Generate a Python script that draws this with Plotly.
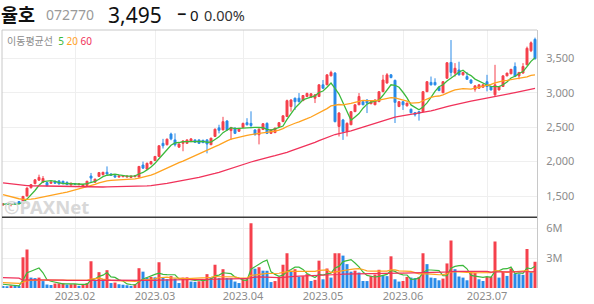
import plotly.graph_objects as go
import pandas as pd

# ---------------- data ----------------
# closes before the visible window (only used so the moving averages start correctly)
prior_closes = [1850, 1840, 1830, 1815, 1825, 1810, 1820, 1805, 1815, 1800, 1820, 1810,
                1790, 1780, 1770, 1785, 1775, 1760, 1770, 1755, 1765, 1750, 1760, 1745,
                1755, 1760, 1750, 1765, 1750, 1740, 1755, 1745, 1750, 1745,
                1750, 1745, 1740, 1735, 1740, 1725,
                1710, 1700, 1685, 1670, 1650, 1630, 1600, 1580, 1560,
                1520, 1490, 1460, 1440, 1420, 1400, 1390, 1385, 1380, 1375]

opens = [1370, 1390, 1375, 1405, 1420, 1390, 1500, 1620, 1680, 1730,
         1700, 1695, 1685, 1715, 1720, 1715, 1695, 1660, 1680, 1665,
         1645, 1650, 1790, 1700, 1785, 1810, 1845, 1820, 1795, 1775,
         1780, 1775, 1770, 1780, 1775, 1950, 1890, 1965, 2015, 2075,
         2265, 2245, 2400, 2315, 2210, 2265, 2265, 2290, 2315, 2315,
         2310, 2315, 2245, 2365, 2490, 2460, 2590, 2450, 2485, 2440,
         2495, 2565, 2555, 2460, 2390, 2465, 2555, 2410, 2420, 2510,
         2580, 2655, 2800, 2920, 2920, 2885, 2945, 2935, 2920, 2945,
         3115, 3115, 3245, 3285, 2510, 2605, 2435, 2535, 2725, 2825,
         2870, 2895, 2840, 2825, 2870, 3015, 3140, 3260, 3180, 2800,
         2870, 2810, 2760, 2710, 2725, 2725, 3015, 3150, 3150, 3080,
         3000, 3210, 3440, 3285, 3330, 3260, 3235, 3185, 3050, 3065,
         3080, 3160, 3090, 2970, 3040, 3090, 3245, 3275, 3380, 3245,
         3285, 3405, 3610, 3775]

highs = [1395, 1400, 1400, 1410, 1425, 1500, 1625, 1675, 1745, 1810,
         1790, 1700, 1712, 1725, 1725, 1720, 1715, 1695, 1690, 1685,
         1670, 1720, 1835, 1750, 1845, 1850, 1930, 1830, 1800, 1800,
         1800, 1795, 1795, 1800, 1935, 2000, 1985, 2010, 2080, 2235,
         2330, 2335, 2420, 2410, 2265, 2310, 2320, 2335, 2320, 2320,
         2315, 2325, 2345, 2480, 2535, 2650, 2600, 2505, 2500, 2490,
         2565, 2630, 2730, 2470, 2480, 2560, 2570, 2470, 2495, 2575,
         2670, 2900, 2905, 2930, 2995, 2965, 3000, 2990, 2975, 3120,
         3185, 3265, 3320, 3300, 2720, 2620, 2570, 2735, 2830, 2995,
         2885, 2900, 2880, 2900, 3020, 3260, 3285, 3270, 3190, 2880,
         2880, 2855, 2770, 2720, 2730, 3025, 3170, 3235, 3210, 3090,
         3170, 3445, 3765, 3430, 3450, 3300, 3300, 3195, 3105, 3120,
         3120, 3260, 3100, 3405, 3095, 3250, 3290, 3345, 3440, 3300,
         3430, 3670, 3745, 3800]

lows = [1360, 1370, 1350, 1375, 1380, 1385, 1495, 1610, 1670, 1720,
        1690, 1640, 1680, 1680, 1670, 1670, 1660, 1655, 1660, 1655,
        1640, 1645, 1700, 1690, 1780, 1800, 1815, 1795, 1770, 1770,
        1775, 1770, 1765, 1775, 1770, 1895, 1885, 1960, 2010, 2065,
        2190, 2235, 2310, 2220, 2200, 2150, 2260, 2285, 2275, 2260,
        2270, 2120, 2240, 2360, 2410, 2455, 2450, 2315, 2400, 2430,
        2490, 2525, 2485, 2380, 2250, 2460, 2400, 2400, 2415, 2500,
        2575, 2650, 2725, 2750, 2860, 2880, 2940, 2930, 2850, 2940,
        3060, 3110, 3240, 2570, 2365, 2315, 2365, 2530, 2720, 2820,
        2820, 2705, 2835, 2820, 2865, 3010, 3135, 3210, 2560, 2790,
        2750, 2800, 2700, 2655, 2595, 2720, 3010, 3105, 3105, 3025,
        2995, 3205, 3235, 3235, 3250, 3250, 3190, 3130, 3015, 3060,
        3075, 3020, 3035, 2950, 3035, 3085, 3240, 3270, 3230, 3195,
        3280, 3400, 3590, 3480]

closes = [1385, 1380, 1390, 1385, 1390, 1495, 1615, 1665, 1735, 1770,
          1755, 1650, 1705, 1685, 1675, 1680, 1665, 1685, 1670, 1675,
          1660, 1715, 1760, 1745, 1840, 1845, 1820, 1800, 1775, 1790,
          1795, 1790, 1790, 1795, 1930, 1905, 1975, 2000, 2075, 2230,
          2230, 2325, 2330, 2245, 2255, 2300, 2315, 2330, 2280, 2265,
          2275, 2255, 2340, 2470, 2455, 2580, 2460, 2495, 2410, 2480,
          2555, 2535, 2525, 2390, 2470, 2550, 2410, 2460, 2485, 2565,
          2665, 2885, 2895, 2870, 2870, 2960, 2990, 2985, 2970, 3115,
          3065, 3260, 3295, 2580, 2705, 2435, 2555, 2725, 2825, 2945,
          2825, 2850, 2870, 2895, 3015, 3185, 3260, 3220, 2860, 2870,
          2825, 2850, 2710, 2680, 2700, 3015, 3160, 3115, 3115, 3030,
          3160, 3435, 3295, 3355, 3260, 3295, 3195, 3140, 3100, 3115,
          3115, 3090, 3040, 3115, 3090, 3245, 3285, 3340, 3235, 3295,
          3380, 3645, 3725, 3495]

# volume in millions of shares
prior_volumes = [0.9, 1.1, 0.8, 1.2, 15.0,
                 1.6, 1.2, 0.9, 0.8, 0.7, 1.0, 0.9, 1.1, 0.8, 0.7, 1.3, 0.9, 0.8, 0.7, 0.9,
                 1.0, 0.8, 0.7, 1.2, 1.0, 0.9, 0.8, 1.1, 0.9, 0.8, 0.7, 1.0, 0.9, 0.8, 1.0,
                 0.9, 1.1, 0.8, 0.9, 1.0,
                 0.7, 0.6, 0.8, 0.5, 0.6, 0.7, 0.5, 0.6, 0.5, 0.7, 0.6, 0.5, 0.6, 0.5, 0.6,
                 0.4, 0.5, 0.4, 0.4]

volumes = [0.20, 0.18, 0.26, 0.22, 0.20, 3.10, 3.90, 1.05, 1.00, 1.05,
           0.70, 0.35, 0.30, 0.45, 0.47, 0.48, 0.35, 0.38, 0.40, 0.22,
           0.30, 0.50, 2.70, 0.80, 1.60, 0.90, 1.80, 0.50, 0.55, 0.38,
           0.33, 0.28, 0.22, 0.38, 2.00, 1.65, 1.05, 1.12, 1.08, 2.60,
           1.05, 0.90, 1.20, 0.95, 0.50, 1.05, 1.08, 0.65, 0.62, 0.68,
           0.70, 1.40, 1.05, 2.35, 1.00, 1.90, 1.00, 0.98, 0.65, 0.50,
           0.88, 0.90, 6.55, 1.95, 2.10, 1.75, 1.74, 0.60, 0.70, 1.10,
           2.35, 3.50, 1.65, 1.90, 1.15, 1.20, 1.40, 0.71, 0.82, 2.76,
           0.88, 1.97, 1.05, 3.50, 3.52, 3.27, 2.41, 1.65, 1.75, 1.56,
           0.71, 0.70, 1.22, 1.36, 1.84, 1.25, 1.20, 3.20, 0.88, 0.65,
           0.71, 1.12, 1.05, 1.00, 1.12, 3.50, 2.41, 1.05, 1.00, 0.78,
           0.95, 2.48, 4.80, 1.90, 1.16, 1.05, 0.78, 1.50, 1.52, 0.88,
           0.71, 1.12, 1.15, 4.69, 1.05, 1.63, 1.22, 1.97, 1.45, 1.40,
           1.33, 3.95, 1.60, 2.65]

month_ticks = [18, 38, 60, 80, 100, 121]
month_labels = ["2023.02", "2023.03", "2023.04", "2023.05", "2023.06", "2023.07"]
price_ticks = [1500, 2000, 2500, 3000, 3500]
price_labels = ["1,500", "2,000", "2,500", "3,000", "3,500"]
vol_ticks = [3, 6]
vol_labels = ["3M", "6M"]
ma_periods = [5, 20, 60]

stock_name = "율호"
stock_code = "072770"
last_price = "3,495"
change = "0"
change_pct = "0.00%"

# ---------------- styles ----------------
RED = "#f5404c"
BLUE = "#2a8be8"
MA_COLORS = {5: "#3cb93c", 20: "#ffa21f", 60: "#f0325a"}
GRID = "#efefef"
TXT = "#8c8c8c"
FONT = "Noto Sans, Noto Sans CJK KR, sans-serif"

idx = list(range(len(closes)))

# moving averages (price and volume)
full_c = pd.Series(prior_closes + closes, dtype=float)
full_v = pd.Series(prior_volumes + volumes, dtype=float)
np_ = len(prior_closes)
nv_ = len(prior_volumes)
price_ma = {n: full_c.rolling(n).mean().iloc[np_:].tolist() for n in ma_periods}
vol_ma = {n: full_v.rolling(n).mean().iloc[nv_:].tolist() for n in ma_periods}

# volume colour: red when volume rose vs previous day, blue otherwise
prev_v = [prior_volumes[-1]] + volumes[:-1]
vol_colors = [RED if v >= p else BLUE for v, p in zip(volumes, prev_v)]

fig = go.Figure()

fig.add_trace(go.Candlestick(
    x=idx, open=opens, high=highs, low=lows, close=closes,
    increasing=dict(line=dict(color=RED, width=1), fillcolor=RED),
    decreasing=dict(line=dict(color=BLUE, width=1), fillcolor=BLUE),
    whiskerwidth=0, xaxis="x", yaxis="y", showlegend=False, hoverinfo="skip"))

for n in ma_periods:
    fig.add_trace(go.Scatter(x=idx, y=price_ma[n], mode="lines",
                             line=dict(color=MA_COLORS[n], width=1.3),
                             xaxis="x", yaxis="y", showlegend=False, hoverinfo="skip"))

fig.add_trace(go.Bar(x=idx, y=volumes, marker=dict(color=vol_colors, line=dict(width=0)),
                     xaxis="x2", yaxis="y2", showlegend=False, hoverinfo="skip"))

for n in ma_periods:
    fig.add_trace(go.Scatter(x=idx, y=vol_ma[n], mode="lines",
                             line=dict(color=MA_COLORS[n], width=1.2),
                             xaxis="x2", yaxis="y2", showlegend=False, hoverinfo="skip"))

W, H = 594, 304
ML, MR, MT, MB = 2, 57, 30, 16
PW, PH = W - ML - MR, H - MT - MB
SPLIT = (288 - 217.3) / PH


def px(x):
    return (x - ML) / PW


def py(y):
    return (H - MB - y) / PH


xrange_ = [-0.25, 133.5]
common_x = dict(range=xrange_, tickvals=month_ticks, showgrid=True, gridcolor=GRID,
                gridwidth=1, zeroline=False, showline=False, ticks="", fixedrange=True)

fig.update_layout(
    width=W, height=H,
    margin=dict(l=ML, r=MR, t=MT, b=MB, pad=0),
    paper_bgcolor="white", plot_bgcolor="white",
    font=dict(family=FONT, size=11, color=TXT),
    showlegend=False, hovermode=False,
    bargap=0.25,
    xaxis=dict(domain=[0, 1], anchor="y", showticklabels=False,
               rangeslider=dict(visible=False), **common_x),
    xaxis2=dict(domain=[0, 1], anchor="y2", matches="x", ticktext=month_labels,
                tickfont=dict(size=11, color=TXT), showticklabels=True, **common_x),
    yaxis=dict(domain=[SPLIT, 1], anchor="x", side="right", range=[1191, 3911],
               tickvals=price_ticks, ticktext=price_labels, showgrid=True, gridcolor=GRID,
               zeroline=False, showline=True, linecolor="#c8c8c8", linewidth=1,
               ticks="", ticklabelstandoff=6, tickfont=dict(size=11, color=TXT), fixedrange=True),
    yaxis2=dict(domain=[0, SPLIT], anchor="x2", side="right", range=[0, 7.14],
                tickvals=vol_ticks, ticktext=vol_labels, showgrid=True, gridcolor=GRID,
                zeroline=False, showline=True, linecolor="#c8c8c8", linewidth=1,
                ticks="", ticklabelstandoff=6, tickfont=dict(size=11, color=TXT), fixedrange=True),
    shapes=[
        dict(type="line", xref="paper", yref="paper", x0=0, x1=1, y0=1, y1=1,
             line=dict(color="#c8c8c8", width=1)),
        dict(type="line", xref="paper", yref="paper", x0=0, x1=0, y0=0, y1=1,
             line=dict(color="#c8c8c8", width=1)),
        dict(type="line", xref="paper", yref="paper", x0=0, x1=1, y0=SPLIT, y1=SPLIT,
             line=dict(color="#3a3a3a", width=1.5)),
    ],
)

ann = []
# header row: anchored at the top of the page so no text box runs past the edge
ann.append(dict(text="<b>" + stock_name + "</b>", x=px(0), y=py(0), xanchor="left", yanchor="top",
                font=dict(family="Noto Sans CJK KR", size=18.5, color="#111")))
ann.append(dict(text=stock_code, x=px(45), y=py(15), xanchor="left", yanchor="middle",
                font=dict(family=FONT, size=14, color="#9a9a9a")))
ann.append(dict(text=last_price, x=px(107), y=py(0), xanchor="left", yanchor="top",
                font=dict(family=FONT, size=21, color="#111")))
ann.append(dict(text="<b>−</b>", x=px(176), y=py(14.5), xanchor="left", yanchor="middle",
                font=dict(family=FONT, size=16, color="#111")))
ann.append(dict(text=change, x=px(189), y=py(15.5), xanchor="left", yanchor="middle",
                font=dict(family=FONT, size=15, color="#111")))
ann.append(dict(text=change_pct, x=px(203), y=py(15.5), xanchor="left", yanchor="middle",
                font=dict(family=FONT, size=14.5, color="#333")))
legend_txt = ("<span style='color:#8c8c8c'>이동평균선</span>  "
              + "<span style='color:%s'>%d</span> " % (MA_COLORS[5], 5)
              + "<span style='color:%s'>%d</span> " % (MA_COLORS[20], 20)
              + "<span style='color:%s'>%d</span>" % (MA_COLORS[60], 60))
ann.append(dict(text=legend_txt, x=px(6), y=py(41), xanchor="left", yanchor="middle",
                font=dict(family=FONT, size=10, color=TXT)))
ann.append(dict(text="<b>©PAXNet</b>", x=px(3), y=py(206), xanchor="left", yanchor="middle",
                font=dict(family=FONT, size=18.5, color="#d8d8d8")))
for a in ann:
    a.update(xref="paper", yref="paper", showarrow=False, borderpad=0)
fig.update_layout(annotations=ann)

fig.write_html("out.html", config=dict(displayModeBar=False, staticPlot=True))
